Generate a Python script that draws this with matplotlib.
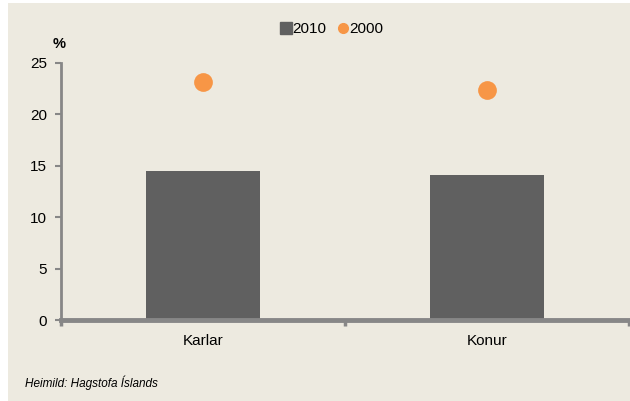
import numpy as np
import matplotlib
matplotlib.use("Agg")
import matplotlib.pyplot as plt
from matplotlib.patches import Rectangle
from matplotlib.lines import Line2D

plt.rcParams["font.family"] = ["Liberation Sans", "DejaVu Sans"]

# ==============================
# 데이터
# ==============================
categories = ["Karlar", "Konur"]
vals_2010 = [14.45, 14.15]
vals_2000 = [23.2, 22.4]
yticks = [0, 5, 10, 15, 20, 25]

BG = "#EDEAE0"
BAR = "#606060"
DOT = "#F79646"
AXC = "#878787"

fig = plt.figure(figsize=(6.3, 4.01), dpi=100)
fig.patch.set_facecolor("white")
# beige panel (behind the axes)
fig.patches.append(Rectangle((8 / 630, 0), 1, 1 - 3 / 401, transform=fig.transFigure,
                             facecolor=BG, edgecolor="none", zorder=-10))

ax = fig.add_axes([61 / 630, 1 - 320 / 401, 568 / 630, 257 / 401])
ax.set_facecolor("none")

x = np.arange(len(categories))
ax.bar(x, vals_2010, width=0.404, color=BAR, zorder=2)
ax.plot(x, vals_2000, "o", color=DOT, markersize=13.5, markeredgewidth=0, zorder=3)

ax.set_xlim(-0.5, 1.5)
ax.set_ylim(0, 25)
ax.set_yticks(yticks)
ax.set_yticklabels([str(v) for v in yticks], fontsize=11)
ax.set_xticks([-0.5, 0.5, 1.5])
ax.set_xticklabels([])
ax.tick_params(axis="y", length=4, width=1.5, color=AXC, pad=6)
ax.tick_params(axis="x", length=4, width=2.5, color=AXC)
for i, c in enumerate(categories):
    ax.text(i, -1.4, c, ha="center", va="top", fontsize=11)

for s in ["top", "right"]:
    ax.spines[s].set_visible(False)
ax.spines["left"].set_color(AXC)
ax.spines["left"].set_linewidth(2)
ax.spines["bottom"].set_color(AXC)
ax.spines["bottom"].set_linewidth(3.5)
ax.spines["bottom"].set_zorder(4)

# % 라벨
fig.text(59 / 630, 1 - 44 / 401, "%", ha="center", va="center", fontsize=10.5, fontweight="bold")

# 범례
handles = [Line2D([], [], marker="s", color=BAR, linestyle="none", markersize=9),
           Line2D([], [], marker="o", color=DOT, linestyle="none", markersize=7)]
fig.legend(handles, ["2010", "2000"], loc="center", bbox_to_anchor=(332 / 630, 1 - 29 / 401),
           ncol=2, frameon=False, fontsize=11, handlelength=0.6, handletextpad=0.1,
           columnspacing=0.8, borderpad=0)

# 출처
fig.text(25 / 630, 1 - 383 / 401, "Heimild: Hagstofa Íslands", ha="left", va="center",
         fontsize=8.5, style="italic")

fig.savefig("out.png", dpi=100, facecolor=fig.get_facecolor())
